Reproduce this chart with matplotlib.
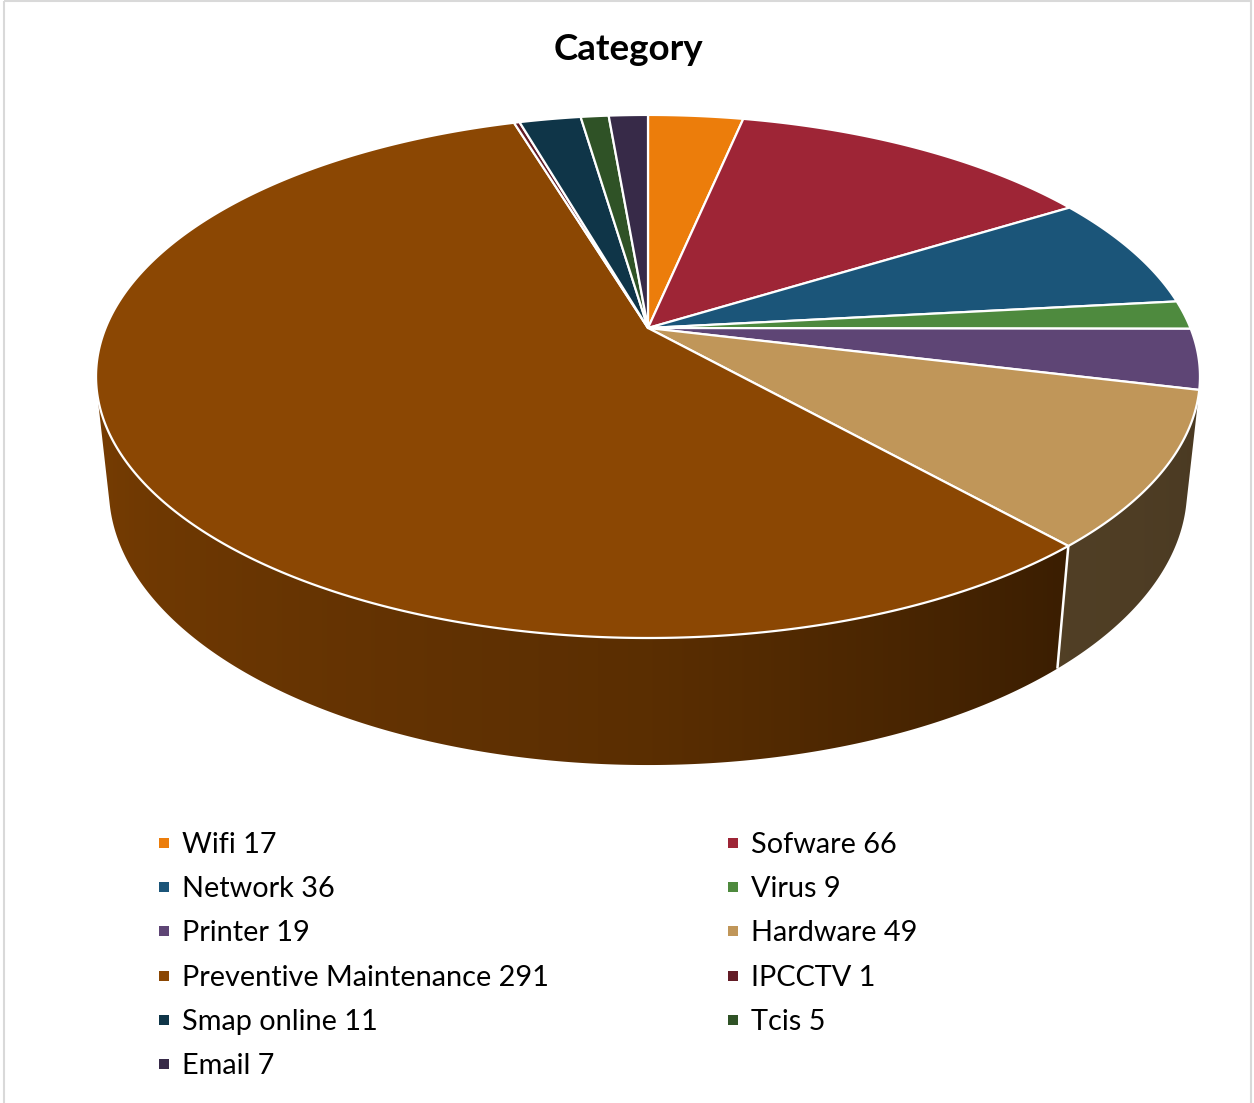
import matplotlib.pyplot as plt
import numpy as np
from matplotlib.patches import Polygon, Rectangle
from matplotlib.colors import to_rgb

plt.rcParams['font.family'] = ['Lato', 'DejaVu Sans']

categories = ['Wifi', 'Sofware', 'Network', 'Virus', 'Printer', 'Hardware',
              'Preventive Maintenance', 'IPCCTV', 'Smap online', 'Tcis', 'Email']
counts = [17, 66, 36, 9, 19, 49, 291, 1, 11, 5, 7]
colors = ['#EC7D0B', '#9E2536', '#1B5579', '#4E8A3E', '#5E4575', '#C09659',
          '#8B4703', '#631C26', '#0F3548', '#2F5226', '#372A48']

# perspective set-up (pixel space), found by fitting the reference ellipse
cx, cy = 648, 328
sa, ca = 0.4656, 0.885
dist, focal, height = 4.775, 2590, 0.2366


def proj(t, z):
    # t: angle clockwise from the far side, in degrees; z: 0 top, -height bottom
    r = np.radians(t)
    X, Y = np.sin(r), np.cos(r)
    depth = dist + Y * ca - z * sa
    return cx + focal * X / depth, cy - focal * (Y * sa + z * ca) / depth


fig = plt.figure(figsize=(12.54, 11.03), dpi=100)
ax = fig.add_axes([0, 0, 1, 1])
ax.set_xlim(0, 1254)
ax.set_ylim(1103, 0)
ax.axis('off')

edges = np.concatenate([[0], np.cumsum(counts)]) / np.sum(counts) * 360
vis_lo = np.degrees(np.arccos(-1 / (dist * ca)))
vis_hi = 360 - vis_lo

# shading of the wall as a function of screen x
shade_t = [100, 138, 180, 256, 260]
shade_f = [0.38, 0.42, 0.65, 0.86, 0.86]
tt = np.linspace(vis_lo, vis_hi, 400)
tx = proj(tt, 0)[0]
px = np.arange(1254) + 0.5
shade_px = np.interp(np.interp(px, tx[::-1], tt[::-1]), shade_t, shade_f)

# side wall
for i, col in enumerate(colors):
    a0, a1 = max(edges[i], vis_lo), min(edges[i + 1], vis_hi)
    if a1 <= a0:
        continue
    ts = np.linspace(a0, a1, max(3, int((a1 - a0) * 2) + 2))
    xt, yt = proj(ts, 0)
    xb, yb = proj(ts[::-1], -height)
    wall = Polygon(list(zip(xt, yt)) + list(zip(xb, yb)), closed=True,
                   facecolor='none', edgecolor='none')
    ax.add_patch(wall)
    grad = np.clip(np.array(to_rgb(col))[None, None, :] * shade_px[None, :, None], 0, 1)
    im = ax.imshow(grad, extent=[0, 1254, 900, 250], aspect='auto',
                   interpolation='bilinear', zorder=1)
    im.set_clip_path(wall)

# white seams on the wall
for e in edges:
    if vis_lo < e < vis_hi:
        xa, ya = proj(e, 0)
        xb, yb = proj(e, -height)
        ax.plot([xa, xb], [ya, yb], color='white', lw=1.8, solid_capstyle='butt', zorder=2)

# top face
for i, col in enumerate(colors):
    ts = np.linspace(edges[i], edges[i + 1], max(3, int(edges[i + 1] - edges[i]) * 2 + 2))
    xs, ys = proj(ts, 0)
    pts = [(cx, cy)] + list(zip(xs, ys))
    ax.add_patch(Polygon(pts, closed=True, facecolor=col, edgecolor='white',
                         linewidth=1.6, joinstyle='round', zorder=3))

ax.set_xlim(0, 1254)
ax.set_ylim(1103, 0)

# title
ax.text(628, 49, 'Category', fontsize=26.5, fontweight='bold', ha='center', va='center')

# legend (row-major, two columns)
for i, (name, val, col) in enumerate(zip(categories, counts, colors)):
    row, colno = divmod(i, 2)
    mx = 164 if colno == 0 else 733
    my = 843 + row * 44.2
    ax.scatter([mx], [my], marker='s', s=62, color=col, linewidths=0)
    ax.text(mx + 18, my + 10, f'{name} {val}', fontsize=20.8, ha='left', va='baseline')

ax.add_patch(Rectangle((3.5, 0.5), 1247, 1110, fill=False, edgecolor='#D9D9D9', lw=1.5))

fig.savefig('out.png', dpi=100)
